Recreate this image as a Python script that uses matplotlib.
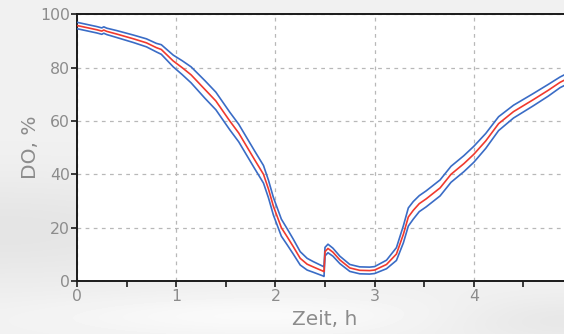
import numpy as np
import matplotlib
matplotlib.use("Agg")
import matplotlib.pyplot as plt
from matplotlib.ticker import MultipleLocator

# Gelöster Sauerstoff über die Zeit (Mittelwert und Streuband)
zeit_h = [0.0, 0.1, 0.2, 0.25, 0.27, 0.3, 0.4, 0.57, 0.7, 0.8, 0.85, 0.97,
          1.06, 1.15, 1.29, 1.4, 1.54, 1.63, 1.71, 1.79, 1.88, 1.93, 1.98,
          2.06, 2.12, 2.18, 2.25, 2.32, 2.38, 2.48, 2.49, 2.50, 2.53, 2.58,
          2.65, 2.75, 2.85, 2.95, 3.0, 3.12, 3.22, 3.29, 3.34, 3.39, 3.45,
          3.52, 3.66, 3.77, 3.9, 4.0, 4.12, 4.25, 4.4, 4.6, 4.75, 4.87, 4.95]
do_mittel = [95.8, 95.0, 94.2, 93.7, 94.1, 93.6, 92.6, 90.8, 89.3, 87.5, 86.8, 82.5,
             80.0, 77.3, 71.8, 67.5, 60.0, 55.5, 50.5, 45.5, 40.0, 34.5, 28.0,
             20.0, 16.5, 12.9, 8.5, 6.3, 5.3, 3.7, 3.5, 11.0, 12.2, 10.8,
             7.9, 4.9, 4.0, 3.9, 4.1, 6.2, 10.1, 17.5, 24.0, 26.5, 29.0,
             30.8, 34.9, 40.0, 44.0, 47.5, 52.5, 59.0, 63.5, 68.0, 71.5, 74.5, 76.0]
do_streuung = [1.2, 1.2, 1.2, 1.2, 1.2, 1.2, 1.3, 1.4, 1.5, 1.6, 1.8, 2.2,
               2.6, 3.0, 3.3, 3.3, 3.3, 3.3, 3.3, 3.3, 3.3, 3.3, 3.3,
               3.2, 3.0, 2.8, 2.5, 2.2, 2.0, 1.8, 1.8, 1.6, 1.6, 1.5,
               1.4, 1.3, 1.3, 1.3, 1.3, 1.6, 2.4, 3.2, 3.4, 3.3, 3.0,
               3.0, 3.0, 3.0, 3.0, 3.0, 2.8, 2.6, 2.4, 2.3, 2.2, 2.0, 2.0]

x_ticks = [0, 1, 2, 3, 4]
y_ticks = [0, 20, 40, 60, 80, 100]

grau = "#8c8c8c"

fig = plt.figure(figsize=(5.64, 3.34), dpi=100)

# Hintergrund mit weichem Grauverlauf
bg = fig.add_axes([0, 0, 1, 1], zorder=-10)
yy, xx = np.mgrid[0:334, 0:564]
hell = 0.945 - 0.05 * np.exp(-((yy - 230) / 55.0) ** 2) * np.exp(-(xx / 260.0) ** 2)
hell -= 0.04 * np.exp(-((yy - 320) / 25.0) ** 2) * np.exp(-((xx - 560) / 120.0) ** 2)
hell += 0.035 * np.exp(-((yy - 315) / 20.0) ** 2) * np.exp(-((xx - 250) / 200.0) ** 2)
bg.imshow(np.clip(hell, 0, 1), cmap="gray", vmin=0, vmax=1, aspect="auto",
          interpolation="bilinear")
bg.axis("off")

ax = fig.add_axes([77 / 564, 1 - 281 / 334, 496 / 564, 266.7 / 334])
ax.set_facecolor("white")

t = np.array(zeit_h)
m = np.array(do_mittel)
s = np.array(do_streuung)

ax.plot(t, m + s, color="#3a6cc6", lw=1.2, zorder=3)
ax.plot(t, m - s, color="#3a6cc6", lw=1.2, zorder=3)
ax.plot(t, m, color="#f03a2e", lw=1.2, zorder=4)

ax.set_xlim(0, 5)
ax.set_ylim(0, 100)
ax.set_xticks(x_ticks)
ax.set_yticks(y_ticks)
ax.xaxis.set_minor_locator(MultipleLocator(0.5))

ax.grid(True, which="major", color="#b8b8b8", linestyle=(0, (3, 3.5)), lw=0.9)
ax.set_axisbelow(True)

for side in ["left", "bottom", "top"]:
    ax.spines[side].set_color("#1a1a1a")
    ax.spines[side].set_linewidth(1.4)
ax.spines["right"].set_visible(False)

ax.tick_params(which="both", direction="out", length=4, width=1.2,
               color="#1a1a1a", labelcolor=grau, labelsize=11.3, pad=2)
ax.tick_params(axis="y", pad=1)

ax.set_xlabel("Zeit, h", color=grau, fontsize=14.5, labelpad=4)
ax.set_ylabel("DO, %", color=grau, fontsize=14.5, labelpad=0)

fig.savefig("out.png", dpi=100, facecolor=fig.get_facecolor())
